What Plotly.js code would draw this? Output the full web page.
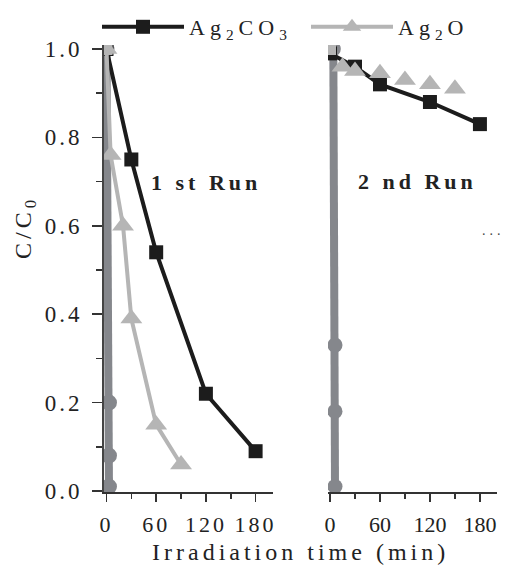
<!DOCTYPE html>
<html>
<head>
<meta charset="utf-8">
<script src="https://cdn.plot.ly/plotly-3.0.1.min.js"></script>
<style>
  html, body { margin: 0; padding: 0; background: #fff; }
  #chart { width: 506px; height: 565px; }
  #chart svg text { font-family: "Liberation Serif" !important; }
  .xtick text { letter-spacing: 3px; }
  .ytick text { letter-spacing: 3px; }
  .legendtext { letter-spacing: 5px; }
  .annotation-text { letter-spacing: 4px; }
</style>
</head>
<body>
<div id="chart"></div>
<script>
// Photocatalytic degradation, two successive runs (C/C0 vs irradiation time)
const run1TimeAg2CO3 = [0, 30, 60, 120, 180];
const run1Ag2CO3 = [1.0, 0.75, 0.54, 0.22, 0.09];
const run1TimeAg2O = [0, 5, 20, 30, 60, 90];
const run1Ag2O = [1.0, 0.76, 0.60, 0.39, 0.15, 0.06];
const run1TimeBlank = [0, 3, 3, 3];
const run1Blank = [1.0, 0.20, 0.08, 0.01];

const run2TimeAg2CO3 = [0, 30, 60, 120, 180];
const run2Ag2CO3 = [0.99, 0.96, 0.92, 0.88, 0.83];
const run2TimeAg2O = [15, 30, 60, 90, 120, 150];
const run2Ag2O = [0.96, 0.95, 0.945, 0.93, 0.92, 0.91];
const run2TimeBlank = [4, 6, 6, 6];
const run2Blank = [1.0, 0.33, 0.18, 0.01];

// initial point (t = 0, C/C0 = 1) of each run
const startTime = [0];
const startRatio = [1.0];

const xTicks = [0, 60, 120, 180];
const xMinor = [30, 90, 150];
const yTicks = [0, 0.2, 0.4, 0.6, 0.8, 1.0];
const yTickText = ['0.0', '0.2', '0.4', '0.6', '0.8', '1.0'];
const yMinor = [0.1, 0.3, 0.5, 0.7, 0.9];

const BLACK = '#1c1c1c';
const LIGHT = '#b5b5b5';
const GREY = '#85878c';
const SERIF = 'Liberation Serif';

const traces = [
  // blank reference series
  { x: run1TimeBlank, y: run1Blank, xaxis: 'x', yaxis: 'y', mode: 'lines+markers', showlegend: false,
    line: { color: GREY, width: 8 }, marker: { symbol: 'circle', size: 16, color: GREY } },
  { x: run2TimeBlank, y: run2Blank, xaxis: 'x2', yaxis: 'y2', mode: 'lines+markers', showlegend: false,
    line: { color: GREY, width: 8 }, marker: { symbol: 'circle', size: 15, color: GREY } },
  // Ag2CO3
  { x: run1TimeAg2CO3, y: run1Ag2CO3, xaxis: 'x', yaxis: 'y', mode: 'lines+markers', name: 'Ag<sub>2</sub>CO<sub>3</sub>',
    line: { color: BLACK, width: 4 }, marker: { symbol: 'square', size: 14, color: BLACK } },
  { x: run2TimeAg2CO3, y: run2Ag2CO3, xaxis: 'x2', yaxis: 'y2', mode: 'lines+markers', showlegend: false,
    line: { color: BLACK, width: 4 }, marker: { symbol: 'square', size: 14, color: BLACK } },
  // Ag2O
  { x: run1TimeAg2O, y: run1Ag2O, xaxis: 'x', yaxis: 'y', mode: 'lines+markers', name: 'Ag<sub>2</sub>O',
    line: { color: LIGHT, width: 4 }, marker: { symbol: 'triangle-up', size: 19, color: LIGHT } },
  { x: run2TimeAg2O, y: run2Ag2O, xaxis: 'x2', yaxis: 'y2', mode: 'markers', showlegend: false,
    marker: { symbol: 'triangle-up', size: 19, color: LIGHT } },
  // starting points
  { x: startTime, y: startRatio, xaxis: 'x', yaxis: 'y', mode: 'markers', showlegend: false,
    marker: { symbol: 'square', size: 12, color: LIGHT } },
  { x: startTime, y: startRatio, xaxis: 'x2', yaxis: 'y2', mode: 'markers', showlegend: false,
    marker: { symbol: 'square', size: 12, color: LIGHT } }
];

const W = 506, H = 565;
const px = v => v / W;
const py = v => 1 - v / H;

const xCommon = {
  tickvals: xTicks, ticktext: xTicks.map(String), ticks: 'outside', ticklen: 8, tickwidth: 1.5, tickcolor: '#333',
  showline: true, linecolor: '#333', linewidth: 2, showgrid: false, zeroline: false,
  tickfont: { family: SERIF, size: 22, color: '#222' }, ticklabelstandoff: 4, automargin: false,
  minor: { tickvals: xMinor, ticks: 'outside', ticklen: 5, tickwidth: 1.5, tickcolor: '#333', showgrid: false }
};
const yRange = [-0.0023, 1.009];
const yDomain = [py(492), py(45)];

const layout = {
  width: W, height: H,
  margin: { l: 0, r: 0, t: 0, b: 0, autoexpand: false },
  paper_bgcolor: '#fff', plot_bgcolor: 'rgba(0,0,0,0)',
  font: { family: SERIF, color: '#222' },
  showlegend: true,
  legend: {
    orientation: 'h', x: px(97), y: py(6), xanchor: 'left', yanchor: 'top',
    bgcolor: 'rgba(0,0,0,0)', itemwidth: 82, entrywidth: 112, traceorder: 'normal',
    font: { family: SERIF, size: 22, color: '#222' }
  },
  xaxis: Object.assign({}, xCommon, { domain: [px(104), px(273)], range: [-3, 201], anchor: 'y' }),
  xaxis2: Object.assign({}, xCommon, { domain: [px(328), px(497)], range: [-2.4, 200.5], anchor: 'y2' }),
  yaxis: {
    domain: yDomain, range: yRange, anchor: 'x',
    tickvals: yTicks, ticktext: yTickText, ticks: 'outside', ticklen: 10, tickwidth: 1.5, tickcolor: '#333',
    showline: true, linecolor: '#444', linewidth: 2, showgrid: false, zeroline: false,
    tickfont: { family: SERIF, size: 23, color: '#222' }, ticklabelstandoff: 5, automargin: false,
    minor: { tickvals: yMinor, ticks: 'outside', ticklen: 6, tickwidth: 1.5, tickcolor: '#333', showgrid: false }
  },
  yaxis2: {
    domain: yDomain, range: yRange, anchor: 'x2',
    showline: false, showticklabels: false, ticks: '', showgrid: false, zeroline: false
  },
  annotations: [
    { text: 'Irradiation time (min)', xref: 'paper', yref: 'paper', x: px(300), y: py(552),
      xanchor: 'center', yanchor: 'middle', showarrow: false,
      font: { family: SERIF, size: 24, color: '#222' } },
    { text: 'C/C<sub>0</sub>', xref: 'paper', yref: 'paper', x: px(25), y: py(228),
      xanchor: 'center', yanchor: 'middle', textangle: -90, showarrow: false,
      font: { family: SERIF, size: 24, color: '#222' } },
    { text: '<b>1 st Run</b>', xref: 'paper', yref: 'paper', x: px(206), y: py(183),
      xanchor: 'center', yanchor: 'middle', showarrow: false,
      font: { family: SERIF, size: 22, color: '#222' } },
    { text: '<b>2 nd Run</b>', xref: 'paper', yref: 'paper', x: px(417), y: py(182),
      xanchor: 'center', yanchor: 'middle', showarrow: false,
      font: { family: SERIF, size: 22, color: '#222' } },
    { text: '...', xref: 'paper', yref: 'paper', x: px(493), y: py(231),
      xanchor: 'center', yanchor: 'middle', showarrow: false,
      font: { family: SERIF, size: 14, color: '#444' } }
  ]
};

Plotly.newPlot('chart', traces, layout, { staticPlot: true, displayModeBar: false });
</script>
</body>
</html>
